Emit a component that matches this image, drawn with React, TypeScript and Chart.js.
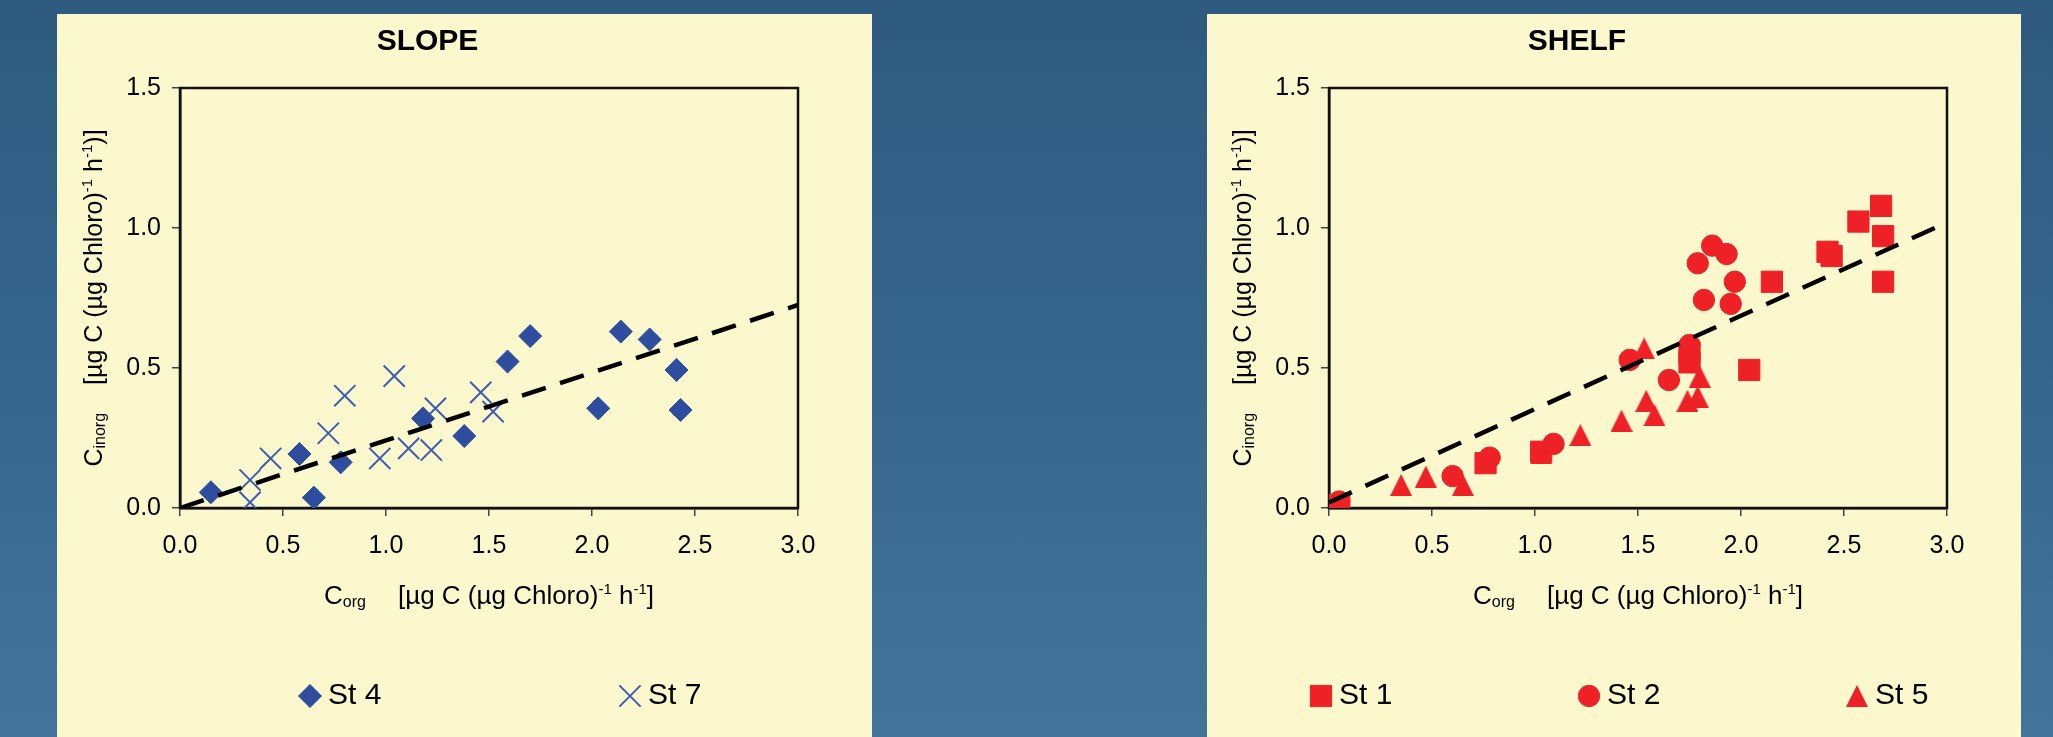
import React, { useEffect, useRef } from 'react';
import { Chart, registerables } from 'chart.js';
import { drawPoint } from 'chart.js/helpers';

Chart.register(...registerables);

const FONT = '"Liberation Sans", Arial, Helvetica, sans-serif';

// ---------- axes ----------
const xTickValues = [0, 0.5, 1, 1.5, 2, 2.5, 3];
const xTickLabels = ['0.0', '0.5', '1.0', '1.5', '2.0', '2.5', '3.0'];
const yTickValues = [0, 0.5, 1, 1.5];
const yTickLabels = ['0.0', '0.5', '1.0', '1.5'];

// ---------- SLOPE ----------
const st4X = [0.15, 0.58, 0.65, 0.78, 1.18, 1.38, 1.59, 1.70, 2.03, 2.14, 2.28, 2.41, 2.43];
const st4Y = [0.056, 0.193, 0.037, 0.163, 0.32, 0.257, 0.523, 0.614, 0.356, 0.63, 0.602, 0.493, 0.35];
const st7X = [0.34, 0.34, 0.44, 0.72, 0.80, 0.97, 1.04, 1.11, 1.22, 1.24, 1.46, 1.52];
const st7Y = [0.100, 0.02, 0.177, 0.267, 0.401, 0.177, 0.471, 0.213, 0.207, 0.356, 0.413, 0.344];
const slopeFitX = [0, 3];
const slopeFitY = [0, 0.725];

// ---------- SHELF ----------
const st1X = [0.05, 0.76, 1.03, 1.75, 1.75, 2.04, 2.15, 2.42, 2.44, 2.57, 2.68, 2.69, 2.69];
const st1Y = [0.011, 0.16, 0.201, 0.555, 0.52, 0.493, 0.808, 0.915, 0.9, 1.023, 1.079, 0.971, 0.808];
const st2X = [0.05, 0.60, 0.78, 1.09, 1.46, 1.65, 1.75, 1.79, 1.82, 1.86, 1.93, 1.97, 1.95];
const st2Y = [0.023, 0.114, 0.18, 0.229, 0.529, 0.457, 0.582, 0.874, 0.743, 0.937, 0.907, 0.808, 0.729];
const st5X = [0.35, 0.47, 0.65, 1.03, 1.22, 1.42, 1.53, 1.54, 1.58, 1.74, 1.79, 1.80];
const st5Y = [0.082, 0.112, 0.082, 0.195, 0.261, 0.312, 0.570, 0.383, 0.332, 0.383, 0.398, 0.469];
const shelfFitX = [0, 3];
const shelfFitY = [0.02, 1.02];

const BLUE = '#2f4d9f';
const BLUE_X = '#3e5cb2';
const RED = '#ee2226';
const PANEL = '#fbf8cd';

const zip = (xs: number[], ys: number[]) => xs.map((x, i) => ({ x, y: ys[i] }));

type Seg = { t?: string; size?: number; dy?: number; gap?: number };

const xTitleSegs: Seg[] = [
  { t: 'C', size: 26 },
  { t: 'org', size: 16, dy: 3 },
  { gap: 32 },
  { t: '[µg C (µg Chloro)', size: 26 },
  { t: '-1', size: 15, dy: -10 },
  { t: ' h', size: 26 },
  { t: '-1', size: 15, dy: -10 },
  { t: ']', size: 26 },
];
const yTitleSegs: Seg[] = [
  { t: 'C', size: 25 },
  { t: 'inorg', size: 16, dy: 3 },
  { gap: 28 },
  { t: '[µg C (µg Chloro)', size: 25 },
  { t: '-1', size: 15, dy: -10 },
  { t: ' h', size: 25 },
  { t: '-1', size: 15, dy: -10 },
  { t: ')]', size: 25 },
];

function drawRich(ctx: CanvasRenderingContext2D, segs: Seg[], cx: number, baseY: number) {
  const widths = segs.map((s) => {
    if (s.gap) return s.gap;
    ctx.font = `${s.size}px ${FONT}`;
    return ctx.measureText(s.t || '').width;
  });
  const total = widths.reduce((a, b) => a + b, 0);
  let x = cx - total / 2;
  ctx.textAlign = 'left';
  ctx.textBaseline = 'alphabetic';
  ctx.fillStyle = '#000';
  segs.forEach((s, i) => {
    if (!s.gap) {
      ctx.font = `${s.size}px ${FONT}`;
      ctx.fillText(s.t || '', x, baseY + (s.dy || 0));
    }
    x += widths[i];
  });
}

const framePlugin = {
  id: 'frame',
  beforeDatasetsDraw(chart: any) {
    const { ctx, chartArea: a } = chart;
    ctx.save();
    ctx.strokeStyle = '#111';
    ctx.lineWidth = 2.5;
    ctx.strokeRect(a.left, a.top, a.right - a.left, a.bottom - a.top);
    ctx.restore();
  },
};

const richTitlesPlugin = {
  id: 'richTitles',
  afterDraw(chart: any, _args: any, opts: any) {
    const { ctx, chartArea: a } = chart;
    ctx.save();
    drawRich(ctx, opts.x, (a.left + a.right) / 2, a.bottom + opts.xOffset);
    ctx.translate(a.left - opts.yOffset, (a.top + a.bottom) / 2);
    ctx.rotate(-Math.PI / 2);
    drawRich(ctx, opts.y, 0, 0);
    ctx.restore();
  },
};

const markerLegendPlugin = {
  id: 'markerLegend',
  afterDraw(chart: any, _args: any, opts: any) {
    const { ctx } = chart;
    const y = chart.height - opts.bottom;
    ctx.save();
    opts.items.forEach((it: any) => {
      const ds = chart.data.datasets[it.datasetIndex];
      ctx.fillStyle = ds.backgroundColor;
      ctx.strokeStyle = ds.borderColor;
      ctx.lineWidth = ds.borderWidth;
      drawPoint(ctx, { pointStyle: ds.pointStyle, rotation: 0, radius: ds.pointRadius, borderWidth: ds.borderWidth }, it.x, y);
      ctx.fillStyle = '#000';
      ctx.font = `30px ${FONT}`;
      ctx.textAlign = 'left';
      ctx.textBaseline = 'middle';
      ctx.fillText(it.label, it.x + 18, y);
    });
    ctx.restore();
  },
};

function makeTriangle(color: string, w: number, h: number) {
  const c = document.createElement('canvas');
  c.width = w;
  c.height = h;
  const g = c.getContext('2d')!;
  g.fillStyle = color;
  g.beginPath();
  g.moveTo(w / 2, 0);
  g.lineTo(w, h);
  g.lineTo(0, h);
  g.closePath();
  g.fill();
  return c;
}

function fitDataset(xs: number[], ys: number[]) {
  return {
    label: 'fit',
    data: zip(xs, ys),
    showLine: true,
    borderColor: '#000',
    backgroundColor: '#000',
    borderWidth: 4.5,
    borderDash: [25, 15],
    pointRadius: 0,
    order: 0,
  };
}

function buildOptions(title: string, yAxisWidth: number, legendItems: any[]) {
  return {
    responsive: false,
    animation: false as const,
    events: [] as any[],
    layout: { padding: { left: 0, right: 74, top: 0, bottom: 0 } },
    plugins: {
      legend: { display: false },
      tooltip: { enabled: false },
      title: {
        display: true,
        text: title,
        color: '#000',
        font: { family: FONT, size: 30, weight: 'bold' as const, lineHeight: 1.2 },
        padding: { top: 10, bottom: 28 },
      },
      richTitles: { x: xTitleSegs, y: yTitleSegs, xOffset: 96, yOffset: 78 },
      markerLegend: { items: legendItems, bottom: 41 },
    },
    scales: {
      x: {
        type: 'linear' as const,
        position: 'bottom' as const,
        min: 0,
        max: 3,
        afterBuildTicks: (s: any) => {
          s.ticks = xTickValues.map((value) => ({ value }));
        },
        afterFit: (s: any) => {
          s.height = 229;
        },
        ticks: {
          callback: (_v: any, i: number) => xTickLabels[i],
          color: '#000',
          font: { family: FONT, size: 25 },
          padding: 15,
          maxRotation: 0,
        },
        grid: { drawOnChartArea: false, tickLength: 8, color: '#444', lineWidth: 1.5 },
        border: { display: true, color: '#111', width: 2.5 },
      },
      y: {
        type: 'linear' as const,
        min: 0,
        max: 1.5,
        afterBuildTicks: (s: any) => {
          s.ticks = yTickValues.map((value) => ({ value }));
        },
        afterFit: (s: any) => {
          s.width = yAxisWidth;
        },
        ticks: {
          callback: (_v: any, i: number) => yTickLabels[i],
          color: '#000',
          font: { family: FONT, size: 25 },
          padding: 11,
        },
        grid: { drawOnChartArea: false, tickLength: 8, color: '#444', lineWidth: 1.5 },
        border: { display: true, color: '#111', width: 2.5 },
      },
    },
  };
}

function SlopeChart() {
  const ref = useRef<HTMLCanvasElement>(null);
  useEffect(() => {
    const chart = new Chart(ref.current!, {
      type: 'scatter',
      data: {
        datasets: [
          fitDataset(slopeFitX, slopeFitY) as any,
          {
            label: 'St 4',
            data: zip(st4X, st4Y),
            pointStyle: 'rectRot',
            pointRadius: 11.5,
            backgroundColor: BLUE,
            borderColor: BLUE,
            borderWidth: 1,
            order: 1,
          },
          {
            label: 'St 7',
            data: zip(st7X, st7Y),
            pointStyle: 'crossRot',
            pointRadius: 15,
            backgroundColor: BLUE_X,
            borderColor: BLUE_X,
            borderWidth: 2,
            order: 1,
          },
        ],
      },
      options: buildOptions('SLOPE', 123, [
        { datasetIndex: 1, label: 'St 4', x: 253 },
        { datasetIndex: 2, label: 'St 7', x: 573 },
      ]) as any,
      plugins: [framePlugin, richTitlesPlugin, markerLegendPlugin],
    });
    return () => chart.destroy();
  }, []);
  return (
    <div style={{ position: 'absolute', left: 57, top: 14, width: 815, height: 723, background: PANEL }}>
      <canvas ref={ref} width={815} height={723} style={{ display: 'block' }} />
    </div>
  );
}

function ShelfChart() {
  const ref = useRef<HTMLCanvasElement>(null);
  useEffect(() => {
    const tri = makeTriangle(RED, 22, 22);
    const chart = new Chart(ref.current!, {
      type: 'scatter',
      data: {
        datasets: [
          fitDataset(shelfFitX, shelfFitY) as any,
          {
            label: 'St 1',
            data: zip(st1X, st1Y),
            pointStyle: 'rect',
            pointRadius: 15,
            backgroundColor: RED,
            borderColor: RED,
            borderWidth: 1,
            order: 1,
          },
          {
            label: 'St 2',
            data: zip(st2X, st2Y),
            pointStyle: 'circle',
            pointRadius: 10.7,
            backgroundColor: RED,
            borderColor: RED,
            borderWidth: 1,
            order: 1,
          },
          {
            label: 'St 5',
            data: zip(st5X, st5Y),
            pointStyle: tri as any,
            pointRadius: 11,
            backgroundColor: RED,
            borderColor: RED,
            borderWidth: 0,
            order: 1,
          },
        ],
      },
      options: buildOptions('SHELF', 122, [
        { datasetIndex: 1, label: 'St 1', x: 114 },
        { datasetIndex: 2, label: 'St 2', x: 382 },
        { datasetIndex: 3, label: 'St 5', x: 650 },
      ]) as any,
      plugins: [framePlugin, richTitlesPlugin, markerLegendPlugin],
    });
    return () => chart.destroy();
  }, []);
  return (
    <div style={{ position: 'absolute', left: 1207, top: 14, width: 814, height: 723, background: PANEL }}>
      <canvas ref={ref} width={814} height={723} style={{ display: 'block' }} />
    </div>
  );
}

export default function App() {
  return (
    <div
      style={{
        position: 'fixed',
        left: 0,
        top: 0,
        width: 2053,
        height: 737,
        overflow: 'hidden',
        background: 'linear-gradient(180deg, #2e5a7f 0%, #35648a 45%, #42749a 100%)',
        fontFamily: FONT,
      }}
    >
      <SlopeChart />
      <ShelfChart />
    </div>
  );
}
